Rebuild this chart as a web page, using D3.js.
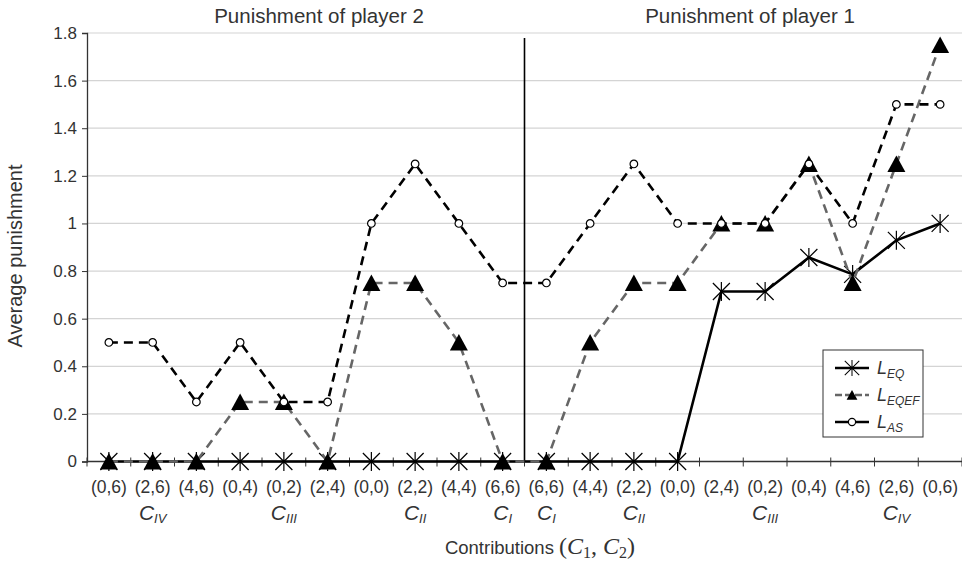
<!DOCTYPE html>
<html>
<head>
<meta charset="utf-8">
<script src="https://cdn.jsdelivr.net/npm/d3@7"></script>
<style>
  body { margin: 0; background: #fff; }
  text { font-family: "Liberation Sans", Arial, sans-serif; fill: #333; }
</style>
</head>
<body>
<div id="chart"></div>
<script>
// contribution pairs, left half = punishment of player 2, right half = player 1
const categories = ["(0,6)", "(2,6)", "(4,6)", "(0,4)", "(0,2)", "(2,4)", "(0,0)", "(2,2)", "(4,4)", "(6,6)",
                    "(6,6)", "(4,4)", "(2,2)", "(0,0)", "(2,4)", "(0,2)", "(0,4)", "(4,6)", "(2,6)", "(0,6)"];
const groupNames = ["IV", "III", "II", "I", "I", "II", "III", "IV"];
const groupAt = [1, 4, 7, 9, 10, 12, 15, 18];
const panelTitles = ["Punishment of player 2", "Punishment of player 1"];

const lEQ = [0, 0, 0, 0, 0, 0, 0, 0, 0, 0,
             0, 0, 0, 0, 0.714, 0.714, 0.857, 0.786, 0.929, 1];
const lEQEF = [0, 0, 0, 0.25, 0.25, 0, 0.75, 0.75, 0.5, 0,
               0, 0.5, 0.75, 0.75, 1, 1, 1.25, 0.75, 1.25, 1.75];
const lAS = [0.5, 0.5, 0.25, 0.5, 0.25, 0.25, 1, 1.25, 1, 0.75,
             0.75, 1, 1.25, 1, 1, 1, 1.25, 1, 1.5, 1.5];
const yTicks = [0, 0.2, 0.4, 0.6, 0.8, 1, 1.2, 1.4, 1.6, 1.8];

const width = 962, height = 562;
const svg = d3.select("#chart").append("svg").attr("width", width).attr("height", height);

const x = d3.scaleBand().domain(d3.range(categories.length)).range([87, 962]);
const y = d3.scaleLinear().domain([0, 1.8]).range([461.5, 33]);
const cx = i => x(i) + x.bandwidth() / 2;

// gridlines
svg.append("g")
  .selectAll("line")
  .data(yTicks.filter(d => d > 0))
  .join("line")
  .attr("x1", 87).attr("x2", 962)
  .attr("y1", d => y(d)).attr("y2", d => y(d))
  .attr("stroke", "#d4d4d4").attr("stroke-width", 1.2);

// y axis
const yAxis = svg.append("g").attr("transform", "translate(87,0)")
  .call(d3.axisLeft(y).tickValues(yTicks).tickSize(5).tickFormat(d3.format("~g")));
yAxis.select(".domain").attr("stroke", "#333").attr("stroke-width", 1.3);
yAxis.selectAll(".tick line").attr("stroke", "#333");
yAxis.selectAll(".tick text").attr("x", -10).style("font-size", "17px").style("font-family", "Liberation Sans, Arial, sans-serif").attr("fill", "#333");

// x axis line at 0 with crossing ticks at band edges
svg.append("line").attr("x1", 87).attr("x2", 962).attr("y1", y(0)).attr("y2", y(0))
  .attr("stroke", "#333").attr("stroke-width", 1.3);
svg.append("g")
  .selectAll("line")
  .data(d3.range(categories.length + 1))
  .join("line")
  .attr("x1", d => 87 + d * x.step()).attr("x2", d => 87 + d * x.step())
  .attr("y1", y(0) - 4).attr("y2", y(0) + 5)
  .attr("stroke", "#333").attr("stroke-width", 1);

// category labels
svg.append("g")
  .selectAll("text")
  .data(categories)
  .join("text")
  .attr("x", (d, i) => cx(i))
  .attr("y", 493)
  .attr("text-anchor", "middle")
  .style("font-size", "17.5px")
  .text(d => d);

// group labels C_I .. C_IV
const groups = svg.append("g")
  .selectAll("text")
  .data(groupNames)
  .join("text")
  .attr("x", (d, i) => cx(groupAt[i]))
  .attr("y", 520)
  .attr("text-anchor", "middle")
  .style("font-style", "italic");
groups.append("tspan").style("font-size", "21px").text("C");
groups.append("tspan").style("font-size", "13px").attr("dy", 3).text(d => d);

// divider between panels
svg.append("line")
  .attr("x1", 87 + 10 * x.step()).attr("x2", 87 + 10 * x.step())
  .attr("y1", 38).attr("y2", y(0))
  .attr("stroke", "#000").attr("stroke-width", 1.6);

// panel titles
svg.append("g")
  .selectAll("text")
  .data(panelTitles)
  .join("text")
  .attr("x", (d, i) => i === 0 ? 319 : 750)
  .attr("y", 23)
  .attr("text-anchor", "middle")
  .style("font-size", "20.5px")
  .text(d => d);

// axis titles
svg.append("text")
  .attr("transform", "translate(22,256) rotate(-90)")
  .attr("text-anchor", "middle")
  .style("font-size", "20px")
  .text("Average punishment");

const xt = svg.append("text").attr("x", 540).attr("y", 554).attr("text-anchor", "middle").style("font-size", "18.5px");
xt.append("tspan").text("Contributions ");
const serif = "'Liberation Serif', 'DejaVu Serif', serif";
xt.append("tspan").style("font-family", serif).style("font-size", "24px").text("(");
xt.append("tspan").style("font-family", serif).style("font-size", "24px").style("font-style", "italic").text("C");
xt.append("tspan").style("font-family", serif).style("font-size", "16px").attr("dy", 4).text("1");
xt.append("tspan").style("font-family", serif).style("font-size", "24px").attr("dy", -4).text(", ");
xt.append("tspan").style("font-family", serif).style("font-size", "24px").style("font-style", "italic").text("C");
xt.append("tspan").style("font-family", serif).style("font-size", "16px").attr("dy", 4).text("2");
xt.append("tspan").style("font-family", serif).style("font-size", "24px").attr("dy", -4).text(")");

// markers
const asterisk = "M0,-9.5L0,9.5M-8.5,-8.5L8.5,8.5M-8.5,8.5L8.5,-8.5";
const triangle = "M0,-8.5L9,8L-9,8Z";

function drawMarker(g, kind) {
  if (kind === "eq") {
    g.append("path").attr("d", asterisk).attr("stroke", "#000").attr("stroke-width", 1.2).attr("fill", "none");
  } else if (kind === "eqef") {
    g.append("path").attr("d", triangle).attr("fill", "#000");
  } else {
    g.append("circle").attr("r", 3.8).attr("fill", "#fff").attr("stroke", "#000").attr("stroke-width", 1.2);
  }
}

const line = d3.line().x((d, i) => cx(i)).y(d => y(d));

const seriesList = [
  { name: "EQ", values: lEQ, kind: "eq", color: "#000", dash: null },
  { name: "EQEF", values: lEQEF, kind: "eqef", color: "#666", dash: "9,6" },
  { name: "AS", values: lAS, kind: "as", color: "#000", dash: "9,6" }
];

seriesList.forEach(s => {
  const g = svg.append("g");
  g.append("path")
    .datum(s.values)
    .attr("d", line)
    .attr("fill", "none")
    .attr("stroke", s.color)
    .attr("stroke-width", 2.6)
    .attr("stroke-dasharray", s.dash);
  g.selectAll("g.m")
    .data(s.values)
    .join("g")
    .attr("class", "m")
    .attr("transform", (d, i) => `translate(${cx(i)},${y(d)})`)
    .each(function () { drawMarker(d3.select(this), s.kind); });
});

// legend
const legend = svg.append("g").attr("transform", "translate(823,350)");
legend.append("rect").attr("width", 100).attr("height", 87)
  .attr("fill", "#fff").attr("stroke", "#333").attr("stroke-width", 1);
seriesList.forEach((s, i) => {
  const ly = 18 + i * 27;
  legend.append("line").attr("x1", 12).attr("x2", 46).attr("y1", ly).attr("y2", ly)
    .attr("stroke", s.color).attr("stroke-width", 2.6)
    .attr("stroke-dasharray", s.kind === "eqef" ? "7,3" : null);
  const mg = legend.append("g").attr("transform", `translate(29,${ly}) scale(${s.kind === "eq" ? 0.85 : 0.6})`);
  if (s.kind === "as") {
    mg.append("circle").attr("r", 6).attr("fill", "#fff").attr("stroke", "#000").attr("stroke-width", 2);
  } else {
    drawMarker(mg, s.kind);
  }
  const t = legend.append("text").attr("x", 54).attr("y", ly + 6).style("font-style", "italic");
  t.append("tspan").style("font-size", "18px").text("L");
  t.append("tspan").style("font-size", "12px").attr("dy", 4).text(s.name);
});
</script>
</body>
</html>
